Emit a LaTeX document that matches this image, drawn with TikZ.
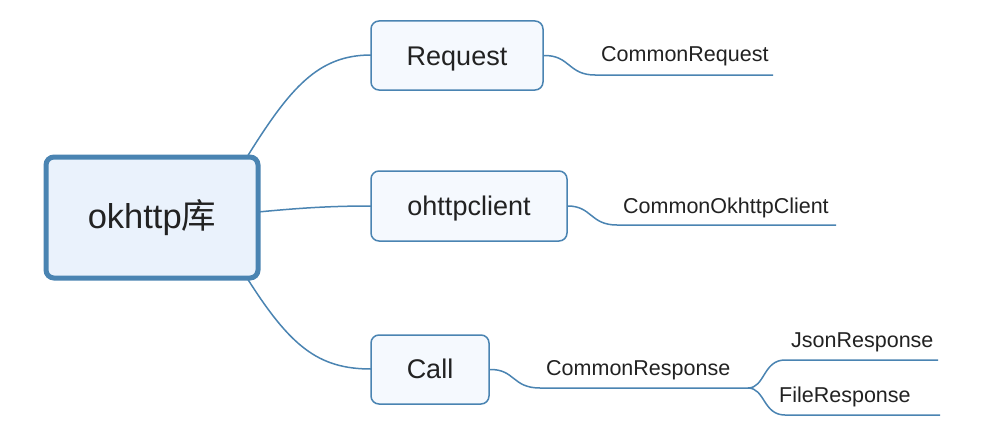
\documentclass[tikz,border=0pt]{standalone}
\usepackage{fontspec}
\setmainfont{Liberation Sans}
\newfontfamily\cjk{Noto Sans CJK SC}
\definecolor{lineblue}{HTML}{4A84B2}
\definecolor{rootfill}{HTML}{EAF2FC}
\definecolor{kidfill}{HTML}{F5F9FE}
\definecolor{txt}{HTML}{222222}
\begin{document}
\begin{tikzpicture}[x=1pt,y=-1pt,
  rootbox/.style={draw=lineblue,line width=5pt,fill=rootfill,rounded corners=8pt,inner sep=0pt,text=txt,font=\fontsize{34.5}{40}\selectfont},
  kidbox/.style={draw=lineblue,line width=1.5pt,fill=kidfill,rounded corners=8pt,inner sep=0pt,text=txt,font=\fontsize{27}{30}\selectfont},
  kidtext/.style={text=txt,font=\fontsize{27}{30}\selectfont,inner sep=0pt,anchor=base},
  leaf/.style={text=txt,font=\fontsize{21.5}{24}\selectfont,inner sep=0pt,anchor=base west},
  conn/.style={draw=lineblue,line width=1.5pt}]
\useasboundingbox (0,0) rectangle (984,436);
\fill[white] (0,0) rectangle (984,436);
% connectors first
\coordinate (rtop) at (247,157);
\coordinate (rmid) at (258,212);
\coordinate (rbot) at (247,278);
\coordinate (reqL) at (371,55);
\coordinate (cliL) at (371,206);
\coordinate (callL) at (371,369);
\draw[conn] (rtop) .. controls (290,88) and (318,55) .. (reqL);
\draw[conn] (rmid) .. controls (300,208) and (330,206) .. (cliL);
\draw[conn] (rbot) .. controls (290,346) and (318,369) .. (callL);
% nodes
\node[rootbox,minimum width=212pt,minimum height=121pt] (root) at (152,217.5) {okhttp{\cjk 库}};
\node[kidbox,minimum width=172pt,minimum height=69pt] (req) at (457,55.5) {};
\node[kidbox,minimum width=196pt,minimum height=70pt] (cli) at (469,206) {};
\node[kidbox,minimum width=118pt,minimum height=69pt] (call) at (430,369.5) {};
\node[kidtext] (reqT) at (457,65) {Request};
\node[kidtext] (cliT) at (469,215) {ohttpclient};
\node[kidtext] (callT) at (430,378.5) {Call};
% leaf lines
\coordinate (creqA) at (595,75);
\coordinate (creqB) at (773,75);
\coordinate (ccliA) at (617,225);
\coordinate (ccliB) at (836,225);
\coordinate (cresA) at (540,388);
\coordinate (cresB) at (748,388);
\coordinate (jsonA) at (785,360);
\coordinate (jsonB) at (938,360);
\coordinate (fileA) at (785,415);
\coordinate (fileB) at (940,415);
\draw[conn] (req.east) .. controls (570,55) and (568,75) .. (creqA) -- (creqB);
\draw[conn] (cli.east) .. controls (592,206) and (590,225) .. (ccliA) -- (ccliB);
\draw[conn] (call.east) .. controls (515,369) and (512,388) .. (cresA) -- (cresB);
\draw[conn] (cresB) .. controls (765,388) and (763,360) .. (jsonA) -- (jsonB);
\draw[conn] (cresB) .. controls (765,388) and (763,415) .. (fileA) -- (fileB);
\node[leaf] (creq) at (601,61) {CommonRequest};
\node[leaf] (ccli) at (623,213) {CommonOkhttpClient};
\node[leaf] (cres) at (546,375) {CommonResponse};
\node[leaf] (json) at (791,347) {JsonResponse};
\node[leaf] (file) at (779,402) {FileResponse};
\end{tikzpicture}
\end{document}
